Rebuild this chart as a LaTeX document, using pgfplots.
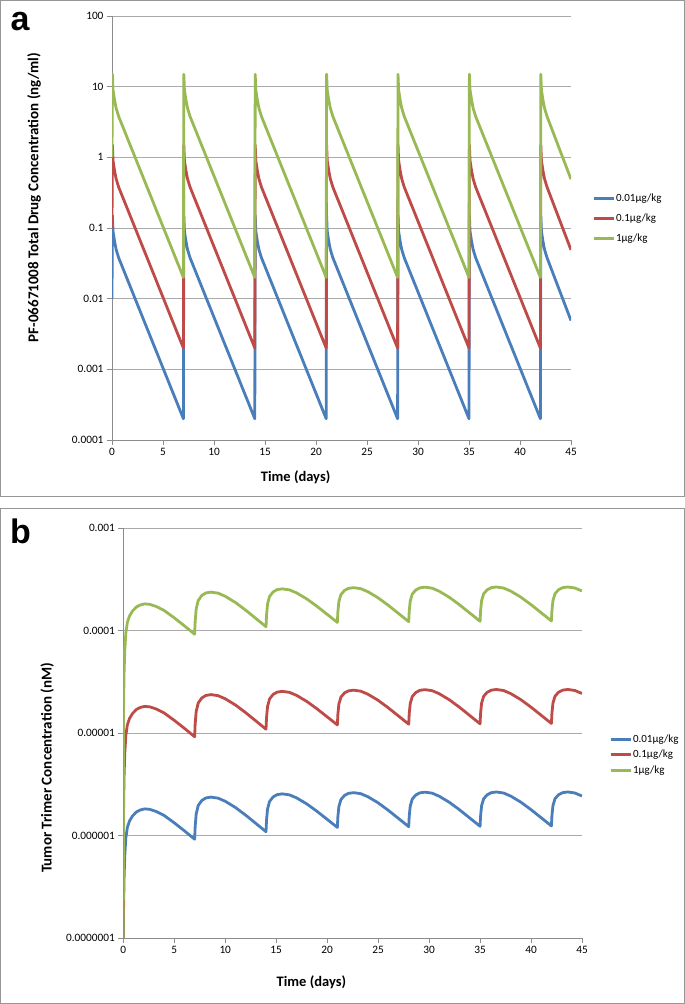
\documentclass[border=0pt]{standalone}
\usepackage{fontspec}
\setmainfont{Carlito}
\newfontfamily\panelfont{Liberation Sans}
\usepackage{pgfplots}
\usepackage{pgfplotstable}
\pgfplotsset{compat=1.18}

\definecolor{sblue}{RGB}{74,126,187}
\definecolor{sred}{RGB}{190,75,72}
\definecolor{sgreen}{RGB}{152,185,84}
\definecolor{gridgray}{RGB}{170,170,170}
\definecolor{axgray}{RGB}{140,140,140}
\definecolor{boxgray}{RGB}{150,150,150}

% Panel a: total drug concentration (ng/ml)
\pgfplotstableread{
t lo mid hi
0 0.01 0.1 1
0.04 0.15 1.5 15
0.1 0.09 0.9 9
0.25 0.065 0.65 6.5
0.4 0.05 0.5 5
0.65 0.038 0.38 3.8
7 0.0002 0.002 0.02
7.04 0.15 1.5 15
7.1 0.09 0.9 9
7.25 0.065 0.65 6.5
7.4 0.05 0.5 5
7.65 0.038 0.38 3.8
14 0.0002 0.002 0.02
14.04 0.15 1.5 15
14.1 0.09 0.9 9
14.25 0.065 0.65 6.5
14.4 0.05 0.5 5
14.65 0.038 0.38 3.8
21 0.0002 0.002 0.02
21.04 0.15 1.5 15
21.1 0.09 0.9 9
21.25 0.065 0.65 6.5
21.4 0.05 0.5 5
21.65 0.038 0.38 3.8
28 0.0002 0.002 0.02
28.04 0.15 1.5 15
28.1 0.09 0.9 9
28.25 0.065 0.65 6.5
28.4 0.05 0.5 5
28.65 0.038 0.38 3.8
35 0.0002 0.002 0.02
35.04 0.15 1.5 15
35.1 0.09 0.9 9
35.25 0.065 0.65 6.5
35.4 0.05 0.5 5
35.65 0.038 0.38 3.8
42 0.0002 0.002 0.02
42.04 0.15 1.5 15
42.1 0.09 0.9 9
42.25 0.065 0.65 6.5
42.4 0.05 0.5 5
42.65 0.038 0.38 3.8
45 0.0049 0.049 0.49
}\pkdata

% Panel b: tumor trimer concentration (nM)
\pgfplotstableread{
t lo mid hi
0 1e-7 1e-7 1e-7
0.03 2e-7 2e-6 2e-5
0.08 4e-7 4e-6 4e-5
0.15 6.5e-7 6.5e-6 6.5e-5
0.25 9.5e-7 9.5e-6 9.5e-5
0.4 1.2e-6 1.2e-5 1.2e-4
0.6 1.38e-6 1.38e-5 1.38e-4
0.9 1.55e-6 1.55e-5 1.55e-4
1.3 1.7e-6 1.7e-5 1.7e-4
1.7 1.78e-6 1.78e-5 1.78e-4
2.1 1.82e-6 1.82e-5 1.82e-4
2.6 1.8e-6 1.8e-5 1.8e-4
3.2 1.72e-6 1.72e-5 1.72e-4
4 1.57e-6 1.57e-5 1.57e-4
5 1.33e-6 1.33e-5 1.33e-4
6 1.11e-6 1.11e-5 1.11e-4
7 0.92e-6 0.92e-5 0.92e-4
7.05 1.222e-6 1.222e-5 1.222e-4
7.15 1.623e-6 1.623e-5 1.623e-4
7.35 1.961e-6 1.961e-5 1.961e-4
7.7 2.197e-6 2.197e-5 2.197e-4
8.1 2.326e-6 2.326e-5 2.326e-4
8.6 2.37e-6 2.37e-5 2.37e-4
9.3 2.315e-6 2.315e-5 2.315e-4
10 2.159e-6 2.159e-5 2.159e-4
11 1.877e-6 1.877e-5 1.877e-4
12 1.582e-6 1.582e-5 1.582e-4
13 1.313e-6 1.313e-5 1.313e-4
14 1.09e-6 1.09e-5 1.09e-4
14.05 1.406e-6 1.406e-5 1.406e-4
14.15 1.815e-6 1.815e-5 1.815e-4
14.35 2.151e-6 2.151e-5 2.151e-4
14.7 2.382e-6 2.382e-5 2.382e-4
15.1 2.507e-6 2.507e-5 2.507e-4
15.6 2.55e-6 2.55e-5 2.55e-4
16.3 2.493e-6 2.493e-5 2.493e-4
17 2.329e-6 2.329e-5 2.329e-4
18 2.034e-6 2.034e-5 2.034e-4
19 1.723e-6 1.723e-5 1.723e-4
20 1.438e-6 1.438e-5 1.438e-4
21 1.2e-6 1.2e-5 1.2e-4
21.05 1.517e-6 1.517e-5 1.517e-4
21.15 1.918e-6 1.918e-5 1.918e-4
21.35 2.242e-6 2.242e-5 2.242e-4
21.7 2.462e-6 2.462e-5 2.462e-4
22.1 2.579e-6 2.579e-5 2.579e-4
22.6 2.62e-6 2.62e-5 2.62e-4
23.3 2.56e-6 2.56e-5 2.56e-4
24 2.39e-6 2.39e-5 2.39e-4
25 2.084e-6 2.084e-5 2.084e-4
26 1.761e-6 1.761e-5 1.761e-4
27 1.466e-6 1.466e-5 1.466e-4
28 1.22e-6 1.22e-5 1.22e-4
28.05 1.54e-6 1.54e-5 1.54e-4
28.15 1.943e-6 1.943e-5 1.943e-4
28.35 2.269e-6 2.269e-5 2.269e-4
28.7 2.491e-6 2.491e-5 2.491e-4
29.1 2.609e-6 2.609e-5 2.609e-4
29.6 2.65e-6 2.65e-5 2.65e-4
30.3 2.589e-6 2.589e-5 2.589e-4
31 2.416e-6 2.416e-5 2.416e-4
32 2.105e-6 2.105e-5 2.105e-4
33 1.778e-6 1.778e-5 1.778e-4
34 1.479e-6 1.479e-5 1.479e-4
35 1.23e-6 1.23e-5 1.23e-4
35.05 1.55e-6 1.55e-5 1.55e-4
35.15 1.954e-6 1.954e-5 1.954e-4
35.35 2.28e-6 2.28e-5 2.28e-4
35.7 2.501e-6 2.501e-5 2.501e-4
36.1 2.619e-6 2.619e-5 2.619e-4
36.6 2.66e-6 2.66e-5 2.66e-4
37.3 2.6e-6 2.6e-5 2.6e-4
38 2.427e-6 2.427e-5 2.427e-4
39 2.116e-6 2.116e-5 2.116e-4
40 1.788e-6 1.788e-5 1.788e-4
41 1.489e-6 1.489e-5 1.489e-4
42 1.24e-6 1.24e-5 1.24e-4
42.05 1.559e-6 1.559e-5 1.559e-4
42.15 1.96e-6 1.96e-5 1.96e-4
42.35 2.284e-6 2.284e-5 2.284e-4
42.7 2.503e-6 2.503e-5 2.503e-4
43.1 2.62e-6 2.62e-5 2.62e-4
43.6 2.66e-6 2.66e-5 2.66e-4
44.3 2.6e-6 2.6e-5 2.6e-4
45 2.43e-6 2.43e-5 2.43e-4
}\tumordata

\pgfplotsset{
  excel/.style={
    scale only axis,
    xmin=0, xmax=45,
    axis x line*=bottom, axis y line*=left,
    axis line style={axgray, line width=0.8pt, -},
    ymajorgrids, yminorticks=false,
    major grid style={gridgray, line width=0.8pt},
    xtick={0,5,...,45},
    xticklabels={0,5,10,15,20,25,30,35,40,45},
    tick style={axgray, line width=0.8pt},
    major tick length=5pt, tick align=outside,
    ticklabel style={font=\fontsize{11.3}{13}\selectfont},
    xlabel={Time (days)},
    xlabel style={font=\fontsize{14.5}{16}\selectfont\bfseries, anchor=center},
    ylabel style={font=\fontsize{15}{17}\selectfont\bfseries, anchor=center},
    every axis plot/.append style={line width=2.8pt, line join=round},
    legend image code/.code={\draw[##1] (0pt,0pt) -- (20pt,0pt);},
    legend cell align=left,
    legend style={draw=none, fill=none, anchor=west, inner sep=0pt,
      font=\fontsize{11}{12}\selectfont,
      nodes={inner sep=1pt}},
  }
}

\begin{document}
\begin{tikzpicture}
\useasboundingbox (0pt,0pt) rectangle (685pt,-1004pt);
\draw[boxgray, line width=1pt] (0.5pt,-0.5pt) rectangle (684.5pt,-496pt);
\draw[boxgray, line width=1pt] (0.5pt,-508pt) rectangle (684.5pt,-1003.5pt);
\node[anchor=base west, inner sep=0pt, font=\panelfont\bfseries\fontsize{34}{34}\selectfont] at (10.5pt,-30pt) {a};
\node[anchor=base west, inner sep=0pt, font=\panelfont\bfseries\fontsize{34}{34}\selectfont] at (10pt,-543pt) {b};

\begin{semilogyaxis}[excel,
  at={(112pt,-440pt)}, anchor=south west,
  width=459pt, height=424pt,
  ymin=1e-4, ymax=100,
  ytick={1e-4,1e-3,1e-2,1e-1,1,10,100},
  yticklabels={0.0001,0.001,0.01,0.1,1,10,100},
  xlabel style={at={(axis description cs:0.40,0)}, yshift=-37.5pt},
  ylabel={PF-06671008 Total Drug Concentration (ng/ml)},
  ylabel style={at={(axis description cs:-0.170,0.572)}},
  legend style={at={(axis description cs:1.0458,0.5224)}, row sep=8.5pt},
]
\addplot[sblue] table[x=t, y=lo] {\pkdata};
\addlegendentry{0.01µg/kg}
\addplot[sred] table[x=t, y=mid] {\pkdata};
\addlegendentry{0.1µg/kg}
\addplot[sgreen] table[x=t, y=hi] {\pkdata};
\addlegendentry{1µg/kg}
\end{semilogyaxis}

\begin{semilogyaxis}[excel,
  at={(123.3pt,-938pt)}, anchor=south west,
  width=458.7pt, height=410pt,
  ymin=1e-7, ymax=1e-3,
  ytick={1e-7,1e-6,1e-5,1e-4,1e-3},
  yticklabels={0.0000001,0.000001,0.00001,0.0001,0.001},
  xlabel style={at={(axis description cs:0.41,0)}, yshift=-44pt},
  ylabel={Tumor Trimer Concentration (nM)},
  ylabel style={at={(axis description cs:-0.166,0.415)}},
  legend style={at={(axis description cs:1.0589,0.4468)}, row sep=4.5pt},
]
\addplot[sblue] table[x=t, y=lo] {\tumordata};
\addlegendentry{0.01µg/kg}
\addplot[sred] table[x=t, y=mid] {\tumordata};
\addlegendentry{0.1µg/kg}
\addplot[sgreen] table[x=t, y=hi] {\tumordata};
\addlegendentry{1µg/kg}
\end{semilogyaxis}
\end{tikzpicture}
\end{document}
